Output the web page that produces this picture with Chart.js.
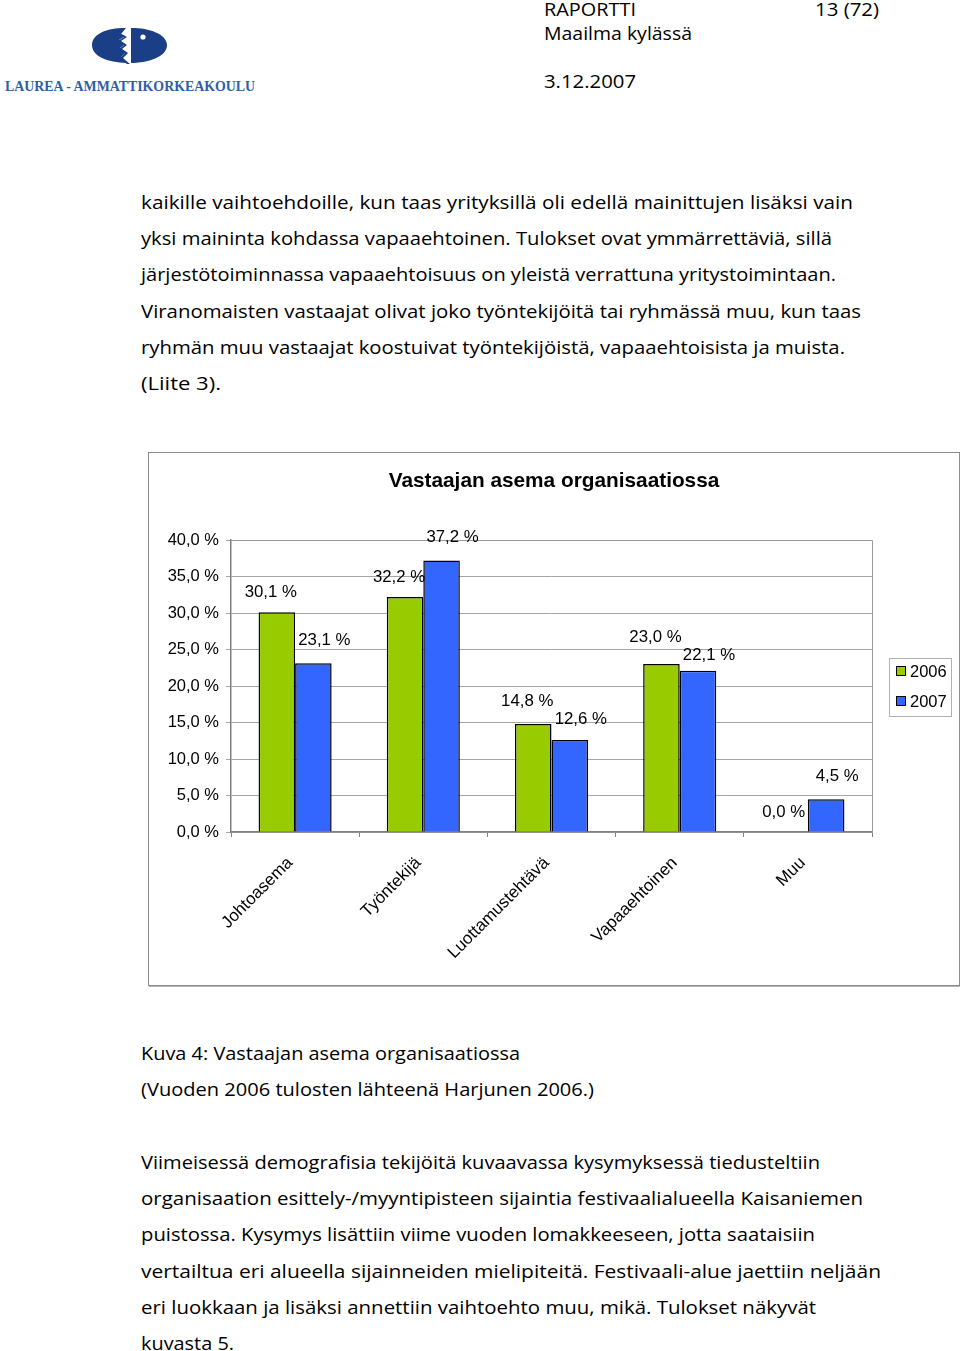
<!DOCTYPE html>
<html lang="fi">
<head>
<meta charset="utf-8">
<script src="https://cdn.jsdelivr.net/npm/chart.js@4.4.1/dist/chart.umd.min.js"></script>
<style>
  html, body { margin:0; padding:0; background:#fff; }
  body { width:960px; height:1351px; position:relative; overflow:hidden; font-family:"Open Sans", sans-serif; color:#000; }
  .ln, .hd { position:absolute; white-space:nowrap; font-size:18.5px; line-height:24px; transform-origin:0 50%; }
  .ln { left:141px; }
  #frame { position:absolute; left:148px; top:452px; width:812px; height:534px; box-sizing:border-box; border:1px solid #8c8c8c; box-shadow:1px 1px 0 #b5b5b5; background:#fff; }
  #frame canvas { display:block; }
  #logo { position:absolute; left:0; top:0; }
</style>
</head>
<body>
<svg id="logo" width="270" height="100" viewBox="0 0 270 100">
  <path d="M92 45 C92 32 112 27 128 28 C146 27 167 33 167 45 C167 57 148 63 130 63 C112 63 92 58 92 45 Z" fill="#1b3f86"/>
  <path d="M124 27 L119 33 L125 36 L119 40 L125 44 L120 48 L126 52 L121 57 L128 64 L131 64 L131 27 Z" fill="#fff"/>
  <path d="M122 28 L126 28 L121 34 L127 37 L121 41 L127 45 L122 49 L128 53 L123 58 L130 64 L127 64 L120 58 L125 53 L119 49 L124 45 L118 41 L124 37 L118 33 Z" fill="#1b3f86"/>
  <circle cx="143" cy="37" r="2.6" fill="#fff"/>
  <text x="5" y="91" font-family="Liberation Serif, serif" font-weight="bold" font-size="14" fill="#2d5fa6" textLength="250" lengthAdjust="spacingAndGlyphs">LAUREA - AMMATTIKORKEAKOULU</text>
</svg>

<div class="hd" data-w="92" style="left:544px; top:-3px;">RAPORTTI</div>
<div class="hd" data-w="64" data-r="879" style="left:815px; top:-3px;">13 (72)</div>
<div class="hd" data-w="148" style="left:544px; top:21px;">Maailma kylässä</div>
<div class="hd" data-w="92" style="left:544px; top:69px;">3.12.2007</div>

<div class="ln" data-w="712" style="top:190px;">kaikille vaihtoehdoille, kun taas yrityksillä oli edellä mainittujen lisäksi vain</div>
<div class="ln" data-w="691" style="top:226px;">yksi maininta kohdassa vapaaehtoinen. Tulokset ovat ymmärrettäviä, sillä</div>
<div class="ln" data-w="695" style="top:262px;">järjestötoiminnassa vapaaehtoisuus on yleistä verrattuna yritystoimintaan.</div>
<div class="ln" data-w="720" style="top:299px;">Viranomaisten vastaajat olivat joko työntekijöitä tai ryhmässä muu, kun taas</div>
<div class="ln" data-w="704" style="top:335px;">ryhmän muu vastaajat koostuivat työntekijöistä, vapaaehtoisista ja muista.</div>
<div class="ln" data-w="80" style="top:371px;">(Liite 3).</div>

<div id="frame"><canvas id="c" width="810" height="532"></canvas></div>

<div class="ln" data-w="379" style="top:1041px;">Kuva 4: Vastaajan asema organisaatiossa</div>
<div class="ln" data-w="453" style="top:1077px;">(Vuoden 2006 tulosten lähteenä Harjunen 2006.)</div>

<div class="ln" data-w="679" style="top:1150px;">Viimeisessä demografisia tekijöitä kuvaavassa kysymyksessä tiedusteltiin</div>
<div class="ln" data-w="722" style="top:1186px;">organisaation esittely-/myyntipisteen sijaintia festivaalialueella Kaisaniemen</div>
<div class="ln" data-w="674" style="top:1222px;">puistossa. Kysymys lisättiin viime vuoden lomakkeeseen, jotta saataisiin</div>
<div class="ln" data-w="740" style="top:1259px;">vertailtua eri alueella sijainneiden mielipiteitä. Festivaali-alue jaettiin neljään</div>
<div class="ln" data-w="675" style="top:1295px;">eri luokkaan ja lisäksi annettiin vaihtoehto muu, mikä. Tulokset näkyvät</div>
<div class="ln" data-w="93" style="top:1331px;">kuvasta 5.</div>

<script>
// ---- data ----
const chartTitle = 'Vastaajan asema organisaatiossa';
const categories = ['Johtoasema', 'Työntekijä', 'Luottamustehtävä', 'Vapaaehtoinen', 'Muu'];
const seriesNames = ['2006', '2007'];
const values2006 = [30.1, 32.2, 14.8, 23.0, 0.0];
const values2007 = [23.1, 37.2, 12.6, 22.1, 4.5];
const yTickValues = [0, 5, 10, 15, 20, 25, 30, 35, 40];
const seriesColors = ['#99cc00', '#3366ff'];

// ---- fit page text widths to the scanned page ----
document.querySelectorAll('.ln, .hd').forEach(el => {
  const w = el.getBoundingClientRect().width;
  const target = parseFloat(el.dataset.w);
  el.style.transform = 'scaleX(' + (target / w) + ')';
  if (el.dataset.r) el.style.left = (parseFloat(el.dataset.r) - target) + 'px';
});

const pct = v => v.toFixed(1).replace('.', ',') + ' %';
const FONT = 'Liberation Sans, Arial, sans-serif';
Chart.defaults.font.family = FONT;
Chart.defaults.color = '#000';

// label placement style per series (Excel-like nudges)
const labelStyle = [ { dx: -6, dy: -20 }, { dx: 11, dy: -23 } ];
const LABEL_H = 18;

const framePlugin = {
  id: 'framePlugin',
  beforeDatasetsDraw(chart) {
    const a = chart.chartArea, c = chart.ctx;
    c.save();
    c.strokeStyle = '#9a9a9a';
    c.lineWidth = 1;
    c.beginPath();
    c.moveTo(a.left, a.top + 0.5);
    c.lineTo(a.right + 0.5, a.top + 0.5);
    c.lineTo(a.right + 0.5, a.bottom);
    c.stroke();
    c.restore();
  },
  afterDraw(chart) {
    const c = chart.ctx, a = chart.chartArea;
    c.save();
    // title, centred on the whole chart box
    c.font = 'bold 20.8px ' + FONT;
    c.fillStyle = '#000';
    c.textAlign = 'center';
    c.textBaseline = 'middle';
    c.fillText(chartTitle, chart.width / 2, 28);
    // value labels, with simple collision avoidance inside each category
    c.font = '16.8px ' + FONT;
    const n = chart.data.labels.length;
    for (let j = 0; j < n; j++) {
      const items = chart.data.datasets.map((ds, i) => {
        const el = chart.getDatasetMeta(i).data[j];
        const txt = pct(ds.data[j]);
        const w = c.measureText(txt).width;
        return { txt, x: el.x + labelStyle[i].dx, y: el.y + labelStyle[i].dy, w, v: ds.data[j] };
      });
      const A = items[0], B = items[1];
      const gap = (B.x - B.w / 2) - (A.x + A.w / 2);
      const dyy = Math.abs(A.y - B.y);
      if (gap < 6 && dyy < LABEL_H) {
        const push = (LABEL_H - dyy) / 2;
        const hi = A.y <= B.y ? A : B, lo = hi === A ? B : A;
        hi.y -= push; lo.y += push;
      }
      items.forEach(it => c.fillText(it.txt, it.x, it.y));
    }
    // legend
    const lx = a.right + 17, ly = 205, lw = 62, lh = 58;
    c.strokeStyle = '#b0b0b0';
    c.lineWidth = 1;
    c.strokeRect(lx + 0.5, ly + 0.5, lw, lh);
    c.textAlign = 'left';
    c.font = '16.5px ' + FONT;
    chart.data.datasets.forEach((ds, i) => {
      const yy = ly + 13 + i * 30;
      c.fillStyle = ds.backgroundColor;
      c.fillRect(lx + 7.5, yy - 4.5, 9, 9);
      c.strokeStyle = '#000';
      c.strokeRect(lx + 7.5, yy - 4.5, 9, 9);
      c.fillStyle = '#000';
      c.fillText(ds.label, lx + 21, yy + 1);
    });
    c.restore();
  }
};

new Chart(document.getElementById('c'), {
  type: 'bar',
  data: {
    labels: categories,
    datasets: [
      { label: seriesNames[0], data: values2006, backgroundColor: seriesColors[0], borderColor: '#000',
        borderWidth: ctx => (ctx.raw === 0 ? 0 : 1.5), borderSkipped: 'bottom' },
      { label: seriesNames[1], data: values2007, backgroundColor: seriesColors[1], borderColor: '#000',
        borderWidth: ctx => (ctx.raw === 0 ? 0 : 1.5), borderSkipped: 'bottom' }
    ]
  },
  options: {
    responsive: false,
    animation: false,
    layout: { padding: { left: 0, right: 87, top: 87, bottom: 0 } },
    datasets: { bar: { barPercentage: 1, categoryPercentage: 0.57 } },
    plugins: {
      legend: { display: false },
      tooltip: { enabled: false },
      title: { display: false }
    },
    scales: {
      x: {
        grid: { offset: true, drawOnChartArea: false, drawTicks: true, tickLength: 5, color: '#808080' },
        border: { color: '#808080', width: 1.5 },
        ticks: { minRotation: 45, maxRotation: 45, autoSkip: false, padding: 16, labelOffset: -5, font: { size: 17 }, color: '#000' },
        afterFit(s) { s.height = 153; }
      },
      y: {
        min: 0, max: 40,
        afterBuildTicks(s) { s.ticks = yTickValues.map(v => ({ value: v })); },
        grid: { color: '#a6a6a6', tickLength: 5, drawTicks: true },
        border: { color: '#808080', width: 1.5 },
        ticks: { padding: 7, font: { size: 16.5 }, color: '#000', callback: v => pct(v) },
        afterFit(s) { s.width = 82; }
      }
    }
  },
  plugins: [framePlugin]
});
</script>
</body>
</html>
